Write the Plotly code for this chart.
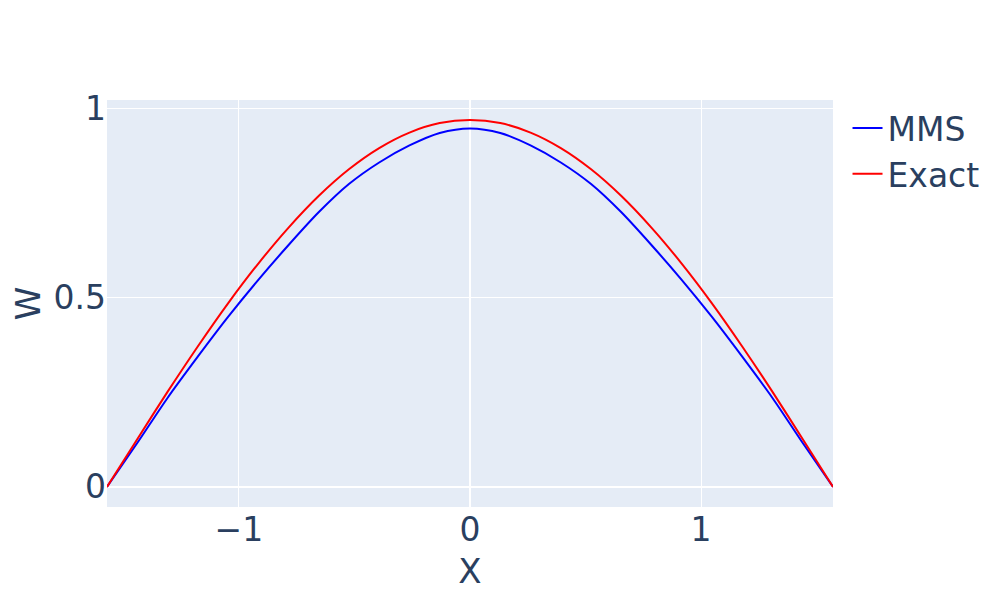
import plotly.graph_objects as go

x_vals = [-1.571, -1.440, -1.309, -1.178, -1.047, -0.916, -0.785, -0.654, -0.524, -0.393, -0.262, -0.131, 0.0,
          0.131, 0.262, 0.393, 0.524, 0.654, 0.785, 0.916, 1.047, 1.178, 1.309, 1.440, 1.571]

mms_vals = [0.0, 0.116, 0.235, 0.344, 0.449, 0.547, 0.639, 0.726, 0.800, 0.857, 0.902, 0.935, 0.947,
            0.935, 0.902, 0.857, 0.800, 0.726, 0.639, 0.547, 0.449, 0.344, 0.235, 0.116, 0.0]

exact_vals = [0.0, 0.126, 0.251, 0.371, 0.485, 0.590, 0.685, 0.769, 0.839, 0.895, 0.936, 0.961, 0.969,
              0.961, 0.936, 0.895, 0.839, 0.769, 0.685, 0.590, 0.485, 0.371, 0.251, 0.126, 0.0]

fig = go.Figure()
fig.add_trace(go.Scatter(x=x_vals, y=mms_vals, mode="lines", name="MMS",
                         line=dict(color="blue", width=2, shape="spline", smoothing=0.8)))
fig.add_trace(go.Scatter(x=x_vals, y=exact_vals, mode="lines", name="Exact",
                         line=dict(color="red", width=2, shape="spline", smoothing=0.8)))

fig.update_layout(
    width=992, height=592,
    font=dict(family="DejaVu Sans, Verdana, sans-serif", size=33, color="#2a3f5f"),
    template="plotly",
    margin=dict(l=99, r=167, t=92, b=93),
    xaxis=dict(title=dict(text="X", font=dict(size=34), standoff=11),
               range=[-1.5708, 1.5708], dtick=1, automargin=False),
    yaxis=dict(title=dict(text="W", font=dict(size=34), standoff=21),
               range=[-0.053, 1.022], dtick=0.5, automargin=False),
)

fig.write_html("out.html")
